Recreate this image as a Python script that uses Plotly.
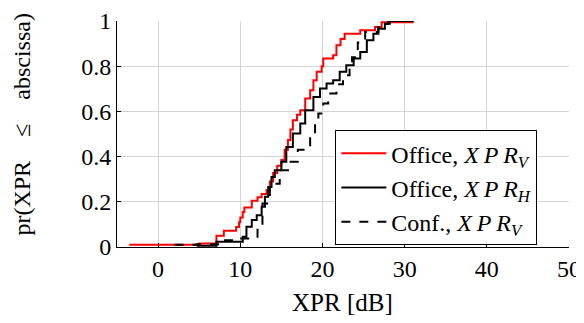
import plotly.graph_objects as go

# Step points: at each x the ECDF jumps to y
office_v_x = [-3.5, 5.0, 7.1, 8.0, 9.5, 9.85, 10.0, 10.3, 10.5, 11.4, 12.1, 12.6, 13.2, 13.6,
              14.0, 14.5, 15.0, 15.4, 15.8, 16.1, 16.4, 16.9, 17.3, 17.9, 18.5, 18.9, 19.3,
              19.9, 20.1, 21.3, 21.7, 22.2, 22.7, 24.6, 26.4, 27.2, 31.1]
office_v_y = [0.01, 0.015, 0.05, 0.072, 0.088, 0.11, 0.13, 0.155, 0.175, 0.205, 0.22, 0.235,
              0.252, 0.29, 0.327, 0.36, 0.385, 0.43, 0.473, 0.52, 0.561, 0.585, 0.605, 0.657,
              0.694, 0.738, 0.775, 0.8, 0.834, 0.848, 0.893, 0.92, 0.944, 0.959, 0.973, 0.995, 0.995]

office_h_x = [4.7, 7.1, 10.3, 10.75, 11.4, 12.0, 12.6, 13.0, 13.4, 13.8, 14.2, 15.0, 15.6,
              16.4, 17.3, 17.9, 18.9, 19.7, 20.5, 21.3, 22.1, 22.9, 23.8, 24.6, 25.4, 26.2,
              26.8, 27.6, 28.0, 31.1]
office_h_y = [0.005, 0.023, 0.045, 0.09, 0.119, 0.141, 0.178, 0.222, 0.266, 0.31, 0.34, 0.377,
              0.443, 0.502, 0.547, 0.605, 0.664, 0.701, 0.723, 0.738, 0.775, 0.804, 0.834,
              0.863, 0.915, 0.944, 0.966, 0.988, 1.0, 1.0]

conf_v_x = [2.0, 4.7, 7.3, 9.5, 11.3, 12.1, 12.7, 13.6, 14.4, 14.8, 15.8, 17.0, 17.7, 18.5,
            19.1, 19.5, 20.1, 20.7, 21.7, 22.5, 23.3, 23.6, 24.3, 25.2, 26.8, 27.8, 28.2]
conf_v_y = [0.01, 0.012, 0.03, 0.038, 0.045, 0.09, 0.193, 0.266, 0.28, 0.34, 0.377, 0.43,
            0.443, 0.495, 0.539, 0.591, 0.635, 0.679, 0.72, 0.76, 0.8, 0.84, 0.905, 0.951,
            0.973, 0.988, 1.0]

FONT = "Liberation Serif, Times New Roman, serif"
XPR = '<i>X\u2009P\u2009R</i>'   # spaced out like TeX math italic

fig = go.Figure()

fig.add_trace(go.Scatter(
    x=office_v_x, y=office_v_y, mode='lines', line_shape='hv',
    name=f'Office, {XPR}<sub><i>V</i></sub>', legendgroup='a',
    line=dict(color='#ff0000', width=2)
))
fig.add_trace(go.Scatter(
    x=office_h_x, y=office_h_y, mode='lines', line_shape='hv',
    name=f'Office, {XPR}<sub><i>H</i></sub>', legendgroup='b',
    line=dict(color='black', width=2)
))
fig.add_trace(go.Scatter(
    x=conf_v_x, y=conf_v_y, mode='lines', line_shape='hv',
    name=f'Conf., {XPR}<sub><i>V</i></sub>', legendgroup='c',
    line=dict(color='black', width=2, dash='dash')
))

# page body has an 8px margin, so the figure is 8px smaller and margins shifted
fig.update_layout(
    template='none',
    width=576, height=315,
    margin=dict(l=109, r=15, t=13, b=76),
    paper_bgcolor='white', plot_bgcolor='white',
    font=dict(family=FONT, size=24, color='black'),
    showlegend=True,
    legend=dict(
        x=0.93, y=0.517, xanchor='right', yanchor='top',
        bgcolor='white', bordercolor='black', borderwidth=1,
        font=dict(family=FONT, size=24, color='black'),
        tracegroupgap=0,
        itemwidth=45,
    ),
)

fig.update_xaxes(
    range=[-5, 50], tick0=0, dtick=10, automargin=False,
    showgrid=True, gridcolor='#d4d4d4', gridwidth=1, zeroline=False,
    showline=True, linecolor='black', linewidth=1, mirror=False,
    ticks='inside', ticklen=4, tickcolor='black',
    tickfont=dict(family=FONT, size=24, color='black'),
)
fig.update_yaxes(
    range=[0, 1], tick0=0, dtick=0.2, automargin=False,
    showgrid=True, gridcolor='#d4d4d4', gridwidth=1, zeroline=False,
    showline=True, linecolor='black', linewidth=1, mirror=False,
    ticks='inside', ticklen=4, tickcolor='black',
    tickfont=dict(family=FONT, size=24, color='black'),
)

# axis titles placed where the reference has them
fig.add_annotation(
    text='XPR [dB]', xref='paper', yref='paper', x=0.499, y=-0.247,
    xanchor='center', yanchor='middle', showarrow=False,
    font=dict(family=FONT, size=25, color='black')
)
fig.add_annotation(
    text='pr(XPR\u2003≤\u2003abscissa)', xref='paper', yref='paper', x=-0.211, y=0.54,
    xanchor='center', yanchor='middle', textangle=-90, showarrow=False,
    font=dict(family=FONT, size=24, color='black')
)

fig.write_html("out.html")
